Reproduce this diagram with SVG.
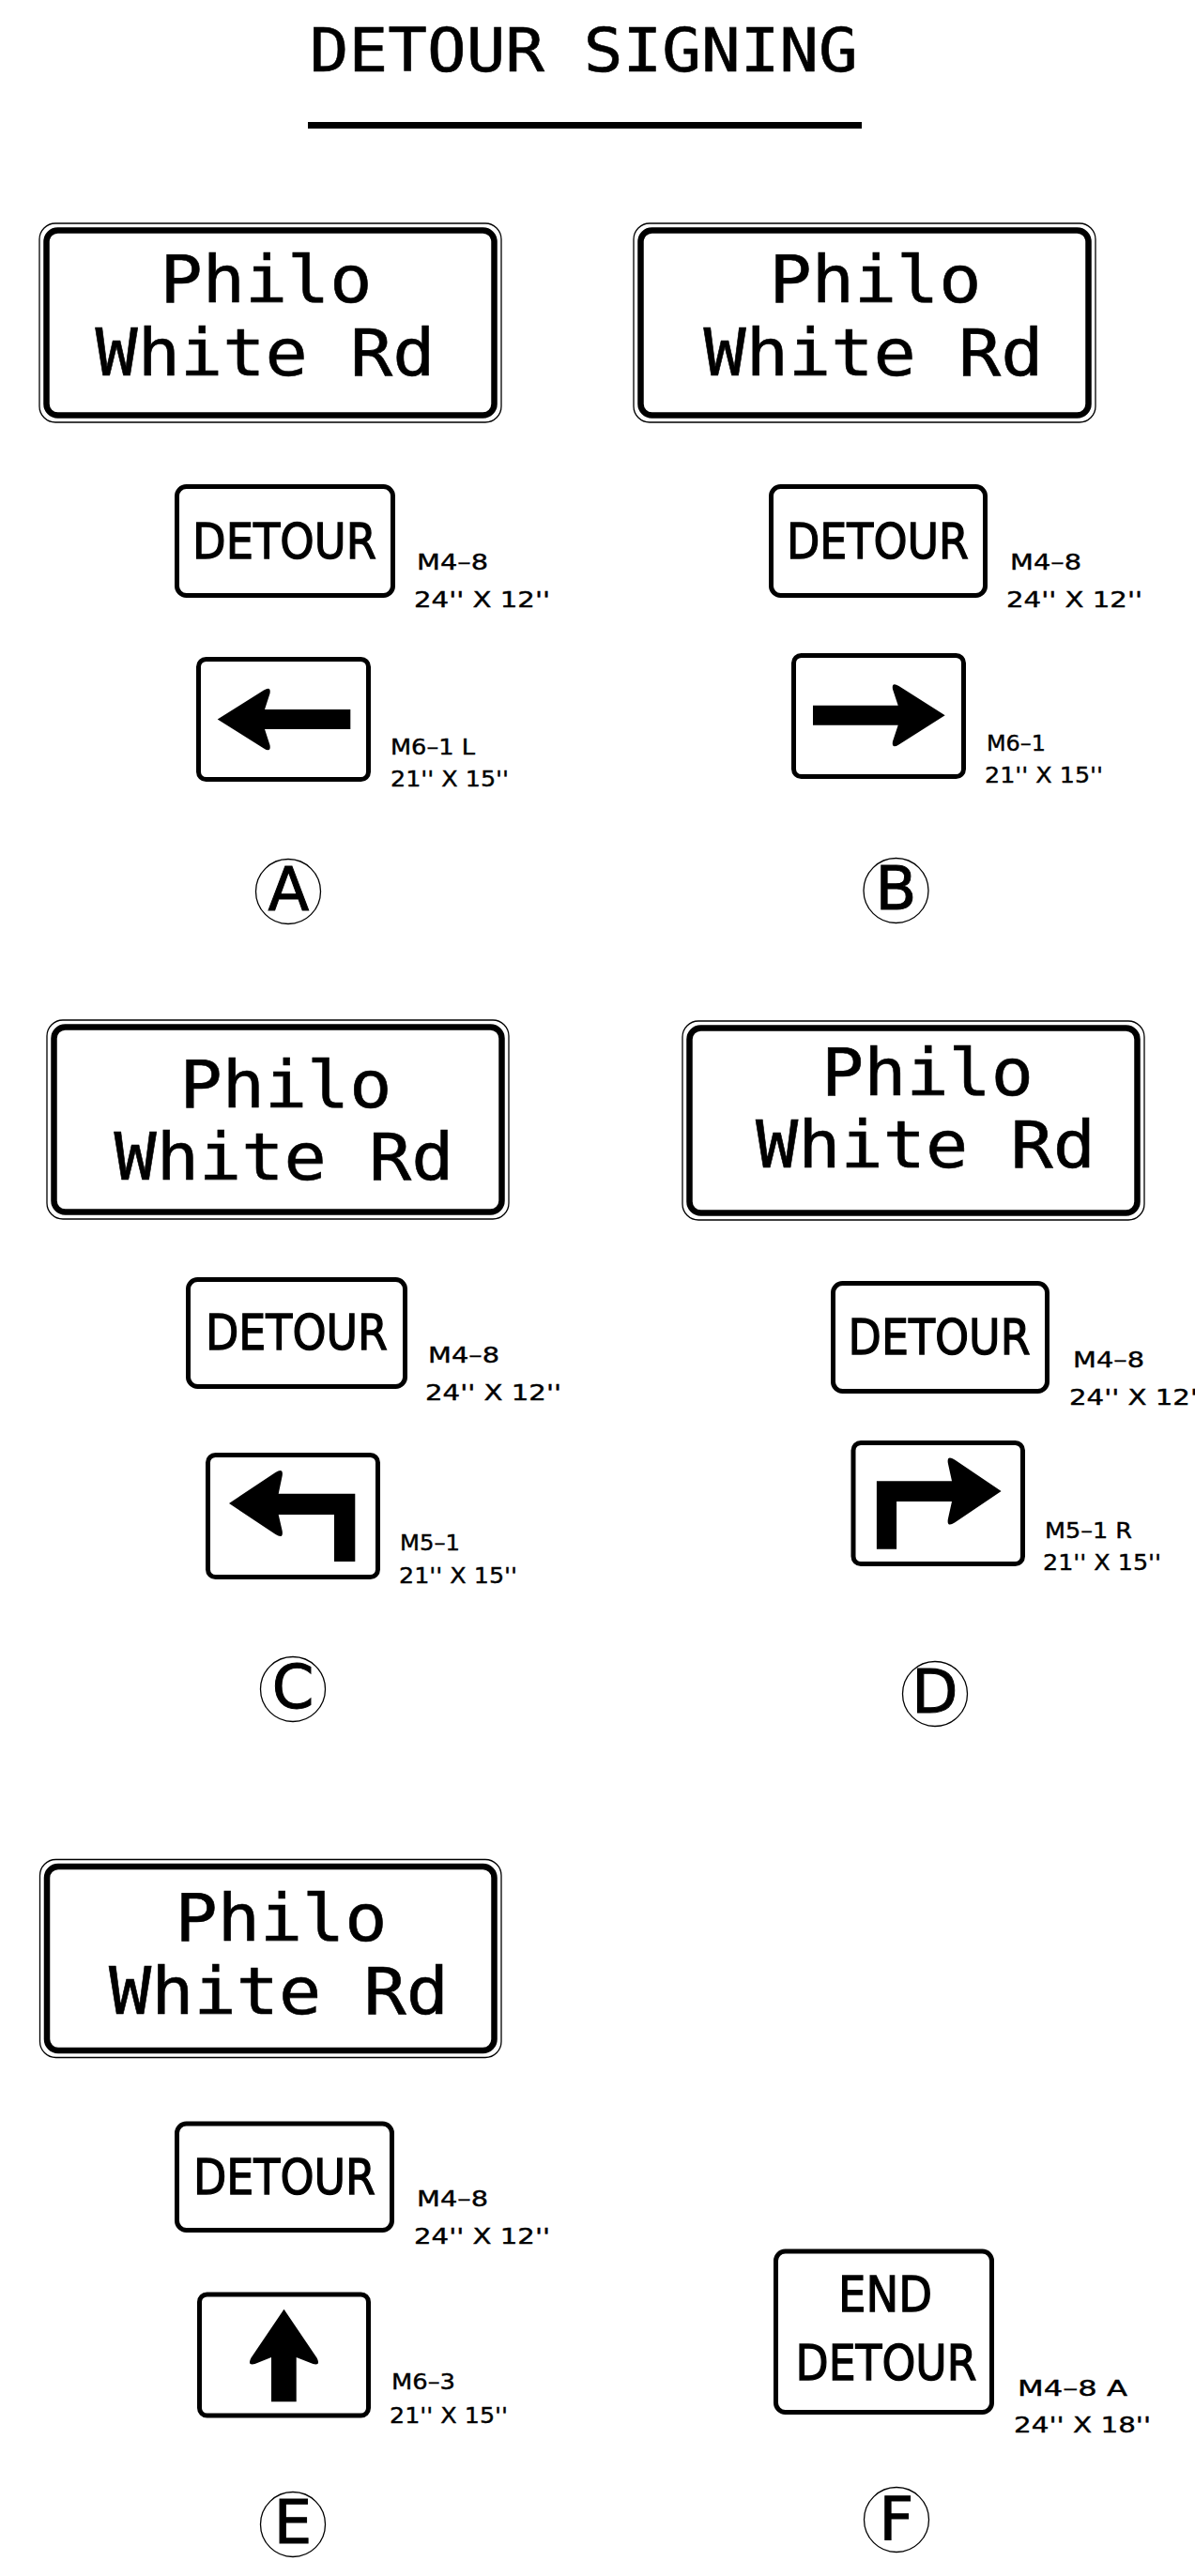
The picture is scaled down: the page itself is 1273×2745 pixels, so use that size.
<svg xmlns="http://www.w3.org/2000/svg" width="1273" height="2745" viewBox="0 0 1273 2745">
<style>
.thin{fill:none;stroke:#000;stroke-width:1.3}
.thick{fill:none;stroke:#000;stroke-width:6.5}
.box{fill:#fff;stroke:#000;stroke-width:5}
.ring{fill:#fff;stroke:#000;stroke-width:1.3}
.mono{font-family:"DejaVu Sans Mono","Liberation Mono",monospace;fill:#000}
.road{font-family:"DejaVu Sans Mono","Liberation Mono",monospace;font-size:70px;text-anchor:middle;fill:#000;stroke:#000;stroke-width:0.6}
.det{font-family:"DejaVu Sans","Liberation Sans",sans-serif;font-size:52px;text-anchor:middle;fill:#000;stroke:#000;stroke-width:1.3}
.lbl{font-family:"DejaVu Sans","Liberation Sans",sans-serif;font-size:23px;fill:#000;stroke:#000;stroke-width:0.4}
.let{font-family:"DejaVu Sans","Liberation Sans",sans-serif;font-size:64px;text-anchor:middle;fill:#000;stroke:#000;stroke-width:1}
.arr{fill:#000;stroke:none}
</style>
<rect width="1273" height="2745" fill="#fff"/>

<g id="title">
<text class="mono" x="621.8" y="76" font-size="64" text-anchor="middle" textLength="584" lengthAdjust="spacingAndGlyphs" stroke="#000" stroke-width="0.6">DETOUR SIGNING</text>
<rect x="328" y="130" width="590" height="7" fill="#000"/>
</g>

<!-- A -->
<g id="signA-road">
<rect class="thin" x="42" y="238" width="492" height="212" rx="17"/>
<rect class="thick" x="49.5" y="245.5" width="477" height="197" rx="12"/>
<text class="road" x="283.5" y="322" textLength="226" lengthAdjust="spacingAndGlyphs">Philo</text>
<text class="road" x="282.5" y="400" textLength="362" lengthAdjust="spacingAndGlyphs">White Rd</text>
</g>
<g id="signA-detour">
<rect class="box" x="188.5" y="518.5" width="230" height="116" rx="10"/>
<text class="det" x="303" y="595" textLength="196" lengthAdjust="spacingAndGlyphs">DETOUR</text>
<text class="lbl" x="444" y="607" textLength="76" lengthAdjust="spacingAndGlyphs">M4–8</text>
<text class="lbl" x="441" y="647" textLength="145" lengthAdjust="spacingAndGlyphs">24'' X 12''</text>
</g>
<g id="signA-arrow">
<rect class="box" x="211.5" y="702.5" width="181" height="128" rx="8"/>
<path class="arr" d="M231.7,766.5 L281,735.5 Q289,730.5 287.5,739 L282,756 L373.3,756 L373.3,777 L282,777 L287.5,794 Q289,802.5 281,797.5 Z"/>
<text class="lbl" x="416" y="804" textLength="90" lengthAdjust="spacingAndGlyphs">M6–1 L</text>
<text class="lbl" x="416" y="838" textLength="126" lengthAdjust="spacingAndGlyphs">21'' X 15''</text>
</g>
<g id="labelA">
<circle class="ring" cx="307" cy="950" r="34.5"/>
<text class="let" x="307.5" y="970">A</text>
</g>

<!-- B -->
<g id="signB-road">
<rect class="thin" x="675" y="238" width="492" height="212" rx="17"/>
<rect class="thick" x="682.5" y="245.5" width="477" height="197" rx="12"/>
<text class="road" x="932.5" y="322" textLength="226" lengthAdjust="spacingAndGlyphs">Philo</text>
<text class="road" x="930.5" y="400" textLength="362" lengthAdjust="spacingAndGlyphs">White Rd</text>
</g>
<g id="signB-detour">
<rect class="box" x="821.5" y="518.5" width="228" height="116" rx="10"/>
<text class="det" x="935" y="595" textLength="194" lengthAdjust="spacingAndGlyphs">DETOUR</text>
<text class="lbl" x="1076" y="607" textLength="76" lengthAdjust="spacingAndGlyphs">M4–8</text>
<text class="lbl" x="1072" y="647" textLength="145" lengthAdjust="spacingAndGlyphs">24'' X 12''</text>
</g>
<g id="signB-arrow">
<rect class="box" x="845.5" y="698.5" width="181" height="129" rx="8"/>
<path class="arr" d="M1006.7,762.2 L957.5,731 Q949.5,726 951,734.5 L956.7,751.7 L866,751.7 L866,772.7 L956.7,772.7 L951,790 Q949.5,798.5 957.5,793.5 Z"/>
<text class="lbl" x="1051" y="800" textLength="63" lengthAdjust="spacingAndGlyphs">M6–1</text>
<text class="lbl" x="1049" y="834" textLength="126" lengthAdjust="spacingAndGlyphs">21'' X 15''</text>
</g>
<g id="labelB">
<circle class="ring" cx="954.5" cy="949" r="34.5"/>
<text class="let" x="954.5" y="969">B</text>
</g>

<!-- C -->
<g id="signC-road">
<rect class="thin" x="50" y="1087" width="492" height="212" rx="17"/>
<rect class="thick" x="57.5" y="1094.5" width="477" height="197" rx="12"/>
<text class="road" x="304.5" y="1180" textLength="226" lengthAdjust="spacingAndGlyphs">Philo</text>
<text class="road" x="302.5" y="1257" textLength="362" lengthAdjust="spacingAndGlyphs">White Rd</text>
</g>
<g id="signC-detour">
<rect class="box" x="200.5" y="1363.5" width="231" height="114" rx="10"/>
<text class="det" x="316" y="1438" textLength="194" lengthAdjust="spacingAndGlyphs">DETOUR</text>
<text class="lbl" x="456" y="1452" textLength="76" lengthAdjust="spacingAndGlyphs">M4–8</text>
<text class="lbl" x="453" y="1492" textLength="145" lengthAdjust="spacingAndGlyphs">24'' X 12''</text>
</g>
<g id="signC-arrow">
<rect class="box" x="221.5" y="1550.5" width="181" height="130" rx="8"/>
<path class="arr" d="M244,1602 L293.5,1569 Q302,1563.5 300.7,1572.5 L296.7,1591.7 L378.3,1591.7 L378.3,1664 L356,1664 L356,1614 L296.7,1614 L300.7,1631.5 Q302,1640.5 293.5,1635 Z"/>
<text class="lbl" x="426" y="1652" textLength="64" lengthAdjust="spacingAndGlyphs">M5–1</text>
<text class="lbl" x="425" y="1687" textLength="126" lengthAdjust="spacingAndGlyphs">21'' X 15''</text>
</g>
<g id="labelC">
<circle class="ring" cx="312" cy="1800" r="34.5"/>
<text class="let" x="312" y="1820">C</text>
</g>

<!-- D -->
<g id="signD-road">
<rect class="thin" x="727" y="1088" width="492" height="212" rx="17"/>
<rect class="thick" x="734.5" y="1095.5" width="477" height="197" rx="12"/>
<text class="road" x="988" y="1167" textLength="226" lengthAdjust="spacingAndGlyphs">Philo</text>
<text class="road" x="986" y="1244" textLength="362" lengthAdjust="spacingAndGlyphs">White Rd</text>
</g>
<g id="signD-detour">
<rect class="box" x="887.5" y="1367.5" width="228" height="115" rx="10"/>
<text class="det" x="1000.6" y="1443" textLength="194" lengthAdjust="spacingAndGlyphs">DETOUR</text>
<text class="lbl" x="1143" y="1457" textLength="76" lengthAdjust="spacingAndGlyphs">M4–8</text>
<text class="lbl" x="1139" y="1497" textLength="145" lengthAdjust="spacingAndGlyphs">24'' X 12''</text>
</g>
<g id="signD-arrow">
<rect class="box" x="909" y="1537.5" width="180.5" height="129" rx="8"/>
<path class="arr" d="M1066.6,1589 L1017,1555.5 Q1008.5,1550 1009.8,1559 L1014,1578.3 L933.9,1578.3 L933.9,1650.7 L955.1,1650.7 L955.1,1600 L1014,1600 L1009.8,1619 Q1008.5,1628 1017,1622.5 Z"/>
<text class="lbl" x="1113" y="1639" textLength="93" lengthAdjust="spacingAndGlyphs">M5–1 R</text>
<text class="lbl" x="1111" y="1673" textLength="126" lengthAdjust="spacingAndGlyphs">21'' X 15''</text>
</g>
<g id="labelD">
<circle class="ring" cx="996" cy="1805" r="34.5"/>
<text class="let" x="996" y="1825">D</text>
</g>

<!-- E -->
<g id="signE-road">
<rect class="thin" x="42.5" y="1981.5" width="491.5" height="211" rx="17"/>
<rect class="thick" x="50" y="1989" width="476.5" height="196" rx="12"/>
<text class="road" x="299.5" y="2068" textLength="226" lengthAdjust="spacingAndGlyphs">Philo</text>
<text class="road" x="297" y="2146" textLength="362" lengthAdjust="spacingAndGlyphs">White Rd</text>
</g>
<g id="signE-detour">
<rect class="box" x="188.5" y="2263" width="229" height="113.5" rx="10"/>
<text class="det" x="303" y="2338" textLength="194" lengthAdjust="spacingAndGlyphs">DETOUR</text>
<text class="lbl" x="444" y="2351" textLength="76" lengthAdjust="spacingAndGlyphs">M4–8</text>
<text class="lbl" x="441" y="2391" textLength="145" lengthAdjust="spacingAndGlyphs">24'' X 12''</text>
</g>
<g id="signE-arrow">
<rect class="box" x="212.5" y="2445" width="180" height="129" rx="8"/>
<path class="arr" d="M302.5,2460.7 L337.5,2512.5 Q342,2521 333.5,2519 L315.7,2512 L315.7,2559.3 L289,2559.3 L289,2512 L271.5,2519 Q263,2521 267.5,2512.5 Z"/>
<text class="lbl" x="417" y="2546" textLength="68" lengthAdjust="spacingAndGlyphs">M6–3</text>
<text class="lbl" x="415" y="2582" textLength="126" lengthAdjust="spacingAndGlyphs">21'' X 15''</text>
</g>
<g id="labelE">
<circle class="ring" cx="312" cy="2690" r="34.5"/>
<text class="let" x="312" y="2710">E</text>
</g>

<!-- F -->
<g id="signF-end-detour">
<rect class="box" x="826.5" y="2399" width="230" height="171.5" rx="10"/>
<text class="det" x="943" y="2463" textLength="100" lengthAdjust="spacingAndGlyphs">END</text>
<text class="det" x="944" y="2536" textLength="193" lengthAdjust="spacingAndGlyphs">DETOUR</text>
<text class="lbl" x="1084" y="2553" textLength="117" lengthAdjust="spacingAndGlyphs">M4–8 A</text>
<text class="lbl" x="1080" y="2592" textLength="146" lengthAdjust="spacingAndGlyphs">24'' X 18''</text>
</g>
<g id="labelF">
<circle class="ring" cx="955" cy="2685" r="34.5"/>
<text class="let" x="955" y="2706">F</text>
</g>

<g id="connectors"></g>
</svg>
